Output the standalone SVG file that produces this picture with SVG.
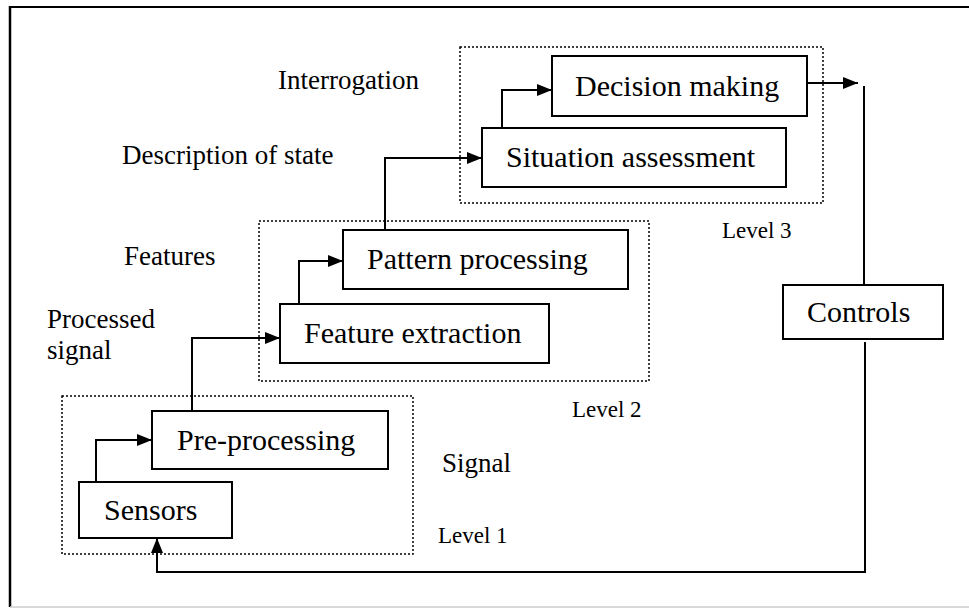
<svg xmlns="http://www.w3.org/2000/svg" width="969" height="608" viewBox="0 0 969 608">
<defs>
<marker id="ah" markerUnits="userSpaceOnUse" markerWidth="15" markerHeight="12" refX="15" refY="6" orient="auto">
<path d="M0,0 L15,6 L0,12 Z" fill="#000"/>
</marker>
<style>
.box{fill:#fff;stroke:#000;stroke-width:2}
.lvl{fill:none;stroke:#000;stroke-width:1.5;stroke-dasharray:2 2}
.con{fill:none;stroke:#000;stroke-width:2}
.t{font-family:"Liberation Serif","Times New Roman",serif;fill:#000}
.bt{font-size:30px}
.lt{font-size:27px}
.vt{font-size:23px}
</style>
</defs>
<rect width="969" height="608" fill="#fff"/>
<g id="frame">
<line x1="10" y1="7" x2="969" y2="7" stroke="#000" stroke-width="2"/>
<line x1="10" y1="6" x2="10" y2="607" stroke="#000" stroke-width="2.5"/>
<line x1="10" y1="607" x2="969" y2="607" stroke="#ccc" stroke-width="1.5"/>
</g>
<g id="levels">
<rect class="lvl" x="62" y="396" width="351" height="158"/>
<rect class="lvl" x="259" y="221" width="390" height="160"/>
<rect class="lvl" x="460" y="47" width="363" height="156"/>
</g>
<g id="connectors">
<polyline class="con" points="96,482 96,440 152,440" marker-end="url(#ah)"/>
<polyline class="con" points="192,411 192,338 280,338" marker-end="url(#ah)"/>
<polyline class="con" points="299,304 299,261 343,261" marker-end="url(#ah)"/>
<polyline class="con" points="385,230 385,158 482,158" marker-end="url(#ah)"/>
<polyline class="con" points="502,128 502,90 552,90" marker-end="url(#ah)"/>
<polyline class="con" points="807,83 858,83" marker-end="url(#ah)"/>
<line class="con" x1="864" y1="86" x2="864" y2="285"/>
<polyline class="con" points="865,342 865,572 157,572 157,538" marker-end="url(#ah)"/>
</g>
<g id="sensors">
<rect class="box" x="79" y="482" width="153" height="56"/>
<text class="t bt" x="104" y="520">Sensors</text>
</g>
<g id="pre-processing">
<rect class="box" x="152" y="411" width="236" height="58"/>
<text class="t bt" x="177" y="450">Pre-processing</text>
</g>
<g id="feature-extraction">
<rect class="box" x="280" y="304" width="269" height="59"/>
<text class="t bt" x="304" y="343">Feature extraction</text>
</g>
<g id="pattern-processing">
<rect class="box" x="343" y="230" width="285" height="59"/>
<text class="t bt" x="367" y="269">Pattern processing</text>
</g>
<g id="situation-assessment">
<rect class="box" x="482" y="128" width="304" height="59"/>
<text class="t bt" x="506" y="167">Situation assessment</text>
</g>
<g id="decision-making">
<rect class="box" x="552" y="56" width="255" height="60"/>
<text class="t bt" x="575" y="96">Decision making</text>
</g>
<g id="controls">
<rect class="box" x="783" y="285" width="160" height="54"/>
<text class="t bt" x="807" y="322">Controls</text>
</g>
<g id="labels">
<text class="t lt" x="278" y="89">Interrogation</text>
<text class="t lt" x="122" y="164">Description of state</text>
<text class="t lt" x="124" y="265">Features</text>
<text class="t lt" x="47" y="328">Processed</text>
<text class="t lt" x="47" y="359">signal</text>
<text class="t lt" x="442" y="472">Signal</text>
<text class="t vt" x="438" y="543">Level 1</text>
<text class="t vt" x="572" y="417">Level 2</text>
<text class="t vt" x="722" y="238">Level 3</text>
</g>
</svg>
